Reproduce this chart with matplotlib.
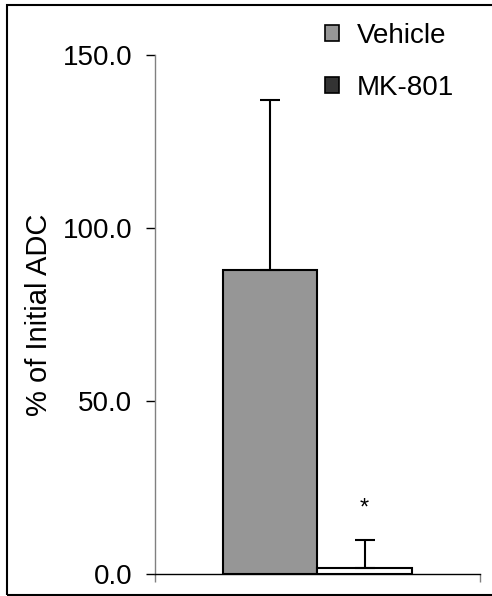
import matplotlib
matplotlib.use("Agg")
import matplotlib.pyplot as plt
from matplotlib.patches import Rectangle, Patch

plt.rcParams['font.family'] = ['Liberation Sans', 'DejaVu Sans']

groups = ["Vehicle", "MK-801"]
means = [87.9, 1.7]
errors = [49.1, 8.1]
bar_colors = ["#969696", "#ffffff"]
legend_colors = ["#969696", "#333333"]
yticks = [0.0, 50.0, 100.0, 150.0]
ytick_labels = ["0.0", "50.0", "100.0", "150.0"]
star_value = 19.0

fig = plt.figure(figsize=(4.92, 5.96), dpi=100)
ax = fig.add_axes([0.315, 0.0365, 0.6606, 0.8715])

width = 0.29
center = 0.5
xs = [center - width / 2 - 0.002, center + width / 2 + 0.0]
for x, m, e, c in zip(xs, means, errors, bar_colors):
    ax.bar(x, m, width=width, color=c, edgecolor="black", linewidth=1.5, zorder=2)
    ax.errorbar(x, m, yerr=[[0], [e]], fmt="none", ecolor="black",
                elinewidth=1.5, capsize=7.5, capthick=1.5, zorder=3)

ax.text(xs[1], star_value, "*", ha="center", va="center", fontsize=17)

ax.set_xlim(0, 1)
ax.set_ylim(0, 150)
ax.set_yticks(yticks)
ax.set_yticklabels(ytick_labels, fontsize=20)
ax.set_xticks([0, 1])
ax.set_xticklabels(["", ""])
ax.tick_params(axis="y", direction="out", length=6.5, width=1, color="black", pad=10)
ax.tick_params(axis="x", direction="out", length=6, width=1, color="#808080")

ax.spines["top"].set_visible(False)
ax.spines["right"].set_visible(False)
ax.spines["left"].set_color("#808080")
ax.spines["left"].set_linewidth(1)
ax.spines["bottom"].set_color("black")
ax.spines["bottom"].set_linewidth(1)

ax.set_ylabel("% of Initial ADC", fontsize=21, labelpad=7)

handles = [Patch(facecolor=c, edgecolor="black", linewidth=1.2) for c in legend_colors]
fig.legend(handles, groups, loc="upper left", bbox_to_anchor=(0.66, 0.962),
           frameon=False, fontsize=20, handlelength=0.5, handleheight=0.5,
           handletextpad=0.65, labelspacing=0.95, borderpad=0, borderaxespad=0)

fig.patches.append(Rectangle((0.0142, 0.0017), 1.2, 0.9899, transform=fig.transFigure,
                             fill=False, edgecolor="black", linewidth=1.5, zorder=10))

fig.savefig("out.png", dpi=100)
